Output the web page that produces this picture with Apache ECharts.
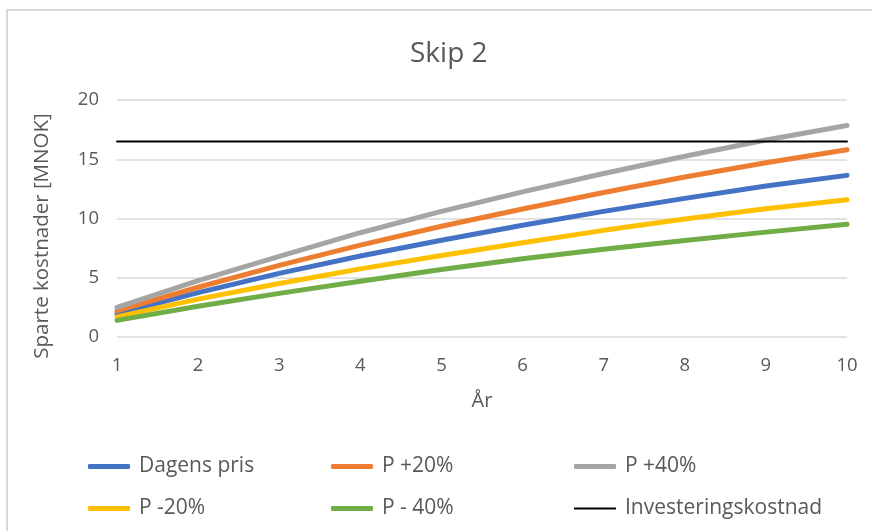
<!DOCTYPE html>
<html>
<head>
<meta charset="utf-8">
<script src="https://cdn.jsdelivr.net/npm/echarts@6/dist/echarts.min.js"></script>
<style>
  html, body { margin: 0; padding: 0; background: #fff; }
  #frame { position: absolute; left: 6px; top: 9px; width: 900px; height: 600px; border: 2px solid #d9d9d9; }
  #chart { position: absolute; left: 0; top: 0; width: 872px; height: 531px; }
</style>
</head>
<body>
<div id="frame"></div>
<div id="chart"></div>
<script>
const years = [1, 2, 3, 4, 5, 6, 7, 8, 9, 10];
const dagensPris = [1.95, 3.75, 5.37, 6.83, 8.17, 9.43, 10.6, 11.7, 12.74, 13.64];
const pPluss20 = [2.2, 4.2, 6.05, 7.75, 9.35, 10.8, 12.2, 13.5, 14.7, 15.8];
const pPluss40 = [2.5, 4.75, 6.8, 8.8, 10.6, 12.25, 13.8, 15.25, 16.62, 17.85];
const pMinus20 = [1.7, 3.2, 4.52, 5.75, 6.87, 7.95, 9.0, 9.95, 10.82, 11.58];
const pMinus40 = [1.4, 2.6, 3.68, 4.7, 5.7, 6.6, 7.4, 8.15, 8.85, 9.52];
const investering = [16.5, 16.5, 16.5, 16.5, 16.5, 16.5, 16.5, 16.5, 16.5, 16.5];
const yTicks = [0, 5, 10, 15, 20];

const font = "'Open Sans', sans-serif";
const grey = "#595959";

const seriesDefs = [
  { name: "Dagens pris", values: dagensPris, color: "#4472C4", width: 5 },
  { name: "P +20%", values: pPluss20, color: "#ED7D31", width: 5 },
  { name: "P +40%", values: pPluss40, color: "#A5A5A5", width: 5 },
  { name: "P -20%", values: pMinus20, color: "#FFC000", width: 5 },
  { name: "P - 40%", values: pMinus40, color: "#70AD47", width: 5 },
  { name: "Investeringskostnad", values: investering, color: "#000000", width: 2 },
];

// legend slots: 3 columns x 2 rows
const legendLeft = [88, 331, 574];
const legendTop = [456, 498];

const chart = echarts.init(document.getElementById("chart"));
const option = {
  animation: false,
  title: {
    text: "Skip 2",
    left: 405,
    top: 35,
    textStyle: { fontFamily: font, fontSize: 28, fontWeight: "normal", color: grey },
  },
  grid: { left: 117, right: 25, top: 100, bottom: 194 },
  xAxis: {
    type: "value",
    min: 1,
    max: 10,
    interval: 1,
    name: "År",
    nameLocation: "middle",
    nameGap: 54,
    nameTextStyle: { fontFamily: font, fontSize: 20, color: grey },
    axisLine: { show: false },
    axisTick: { show: false },
    splitLine: { show: false },
    axisLabel: { fontFamily: font, fontSize: 18.5, color: grey, margin: 19 },
  },
  yAxis: {
    type: "value",
    min: yTicks[0],
    max: yTicks[yTicks.length - 1],
    interval: 5,
    axisLine: { show: false },
    axisTick: { show: false },
    splitLine: { lineStyle: { color: "#d9d9d9", width: 1.5 } },
    axisLabel: { fontFamily: font, fontSize: 18.5, color: grey, margin: 18 },
  },
  graphic: [
    {
      type: "text",
      x: 42,
      y: 236,
      rotation: Math.PI / 2,
      style: {
        text: "Sparte kostnader [MNOK]",
        fontFamily: font,
        fontSize: 20.5,
        fill: grey,
        align: "center",
        verticalAlign: "middle",
      },
    },
  ],
  legend: seriesDefs.map((s, i) => ({
    data: [s.name],
    left: legendLeft[i % 3],
    top: legendTop[Math.floor(i / 3)],
    itemWidth: 42,
    itemHeight: s.width,
    icon: "roundRect",
    itemGap: 0,
    padding: 0,
    textStyle: { fontFamily: font, fontSize: 21, color: grey, padding: [0, 0, 0, 4] },
  })),
  series: seriesDefs.map((s) => ({
    name: s.name,
    type: "line",
    showSymbol: false,
    symbol: "none",
    data: years.map((y, k) => [y, s.values[k]]),
    lineStyle: { color: s.color, width: s.width, cap: "round" },
    itemStyle: { color: s.color },
  })),
};
chart.setOption(option);
window.onresize = function () {
  chart.resize();
};
</script>
</body>
</html>
